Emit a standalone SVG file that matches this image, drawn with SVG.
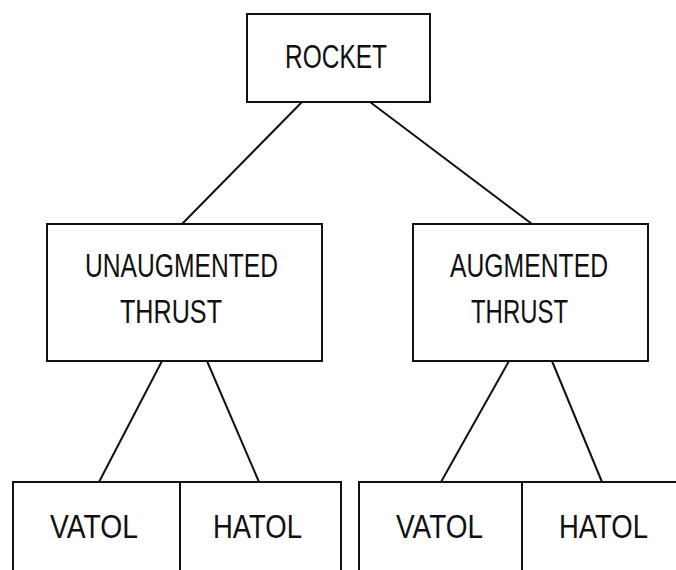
<svg xmlns="http://www.w3.org/2000/svg" width="676" height="570" viewBox="0 0 676 570">
<style>
.box{fill:none;stroke:#111;stroke-width:2}
.edge{fill:none;stroke:#111;stroke-width:2}
.lbl{font-family:"Liberation Sans","DejaVu Sans",sans-serif;font-size:33px;fill:#111}
</style>
<rect width="676" height="570" fill="#fff"/>
<g id="connectors">
<line class="edge" x1="302" y1="102" x2="182" y2="224"/>
<line class="edge" x1="370" y1="102" x2="532" y2="224"/>
<line class="edge" x1="162" y1="361" x2="99" y2="482"/>
<line class="edge" x1="207" y1="361" x2="259" y2="482"/>
<line class="edge" x1="509" y1="361" x2="441" y2="482"/>
<line class="edge" x1="552" y1="361" x2="602" y2="482"/>
</g>
<g id="rocket">
<rect class="box" x="247" y="14" width="183" height="88"/>
<text class="lbl" x="285" y="68" textLength="102" lengthAdjust="spacingAndGlyphs">ROCKET</text>
</g>
<g id="unaugmented">
<rect class="box" x="47" y="224" width="275" height="137"/>
<text class="lbl" x="85" y="277" textLength="193" lengthAdjust="spacingAndGlyphs">UNAUGMENTED</text>
<text class="lbl" x="120" y="323" textLength="102" lengthAdjust="spacingAndGlyphs">THRUST</text>
</g>
<g id="augmented">
<rect class="box" x="413" y="224" width="235" height="137"/>
<text class="lbl" x="450" y="277" textLength="158" lengthAdjust="spacingAndGlyphs">AUGMENTED</text>
<text class="lbl" x="471" y="323" textLength="97" lengthAdjust="spacingAndGlyphs">THRUST</text>
</g>
<g id="unaug-vatol">
<path class="box" d="M13,572 V482 H180 V572"/>
<text class="lbl" x="50" y="538" textLength="88" lengthAdjust="spacingAndGlyphs">VATOL</text>
</g>
<g id="unaug-hatol">
<path class="box" d="M180,482 H341 V572"/>
<text class="lbl" x="213" y="538" textLength="89" lengthAdjust="spacingAndGlyphs">HATOL</text>
</g>
<g id="aug-vatol">
<path class="box" d="M359,572 V482 H522 V572"/>
<text class="lbl" x="396" y="538" textLength="87" lengthAdjust="spacingAndGlyphs">VATOL</text>
</g>
<g id="aug-hatol">
<path class="box" d="M522,482 H678"/>
<text class="lbl" x="559" y="538" textLength="89" lengthAdjust="spacingAndGlyphs">HATOL</text>
</g>
</svg>
